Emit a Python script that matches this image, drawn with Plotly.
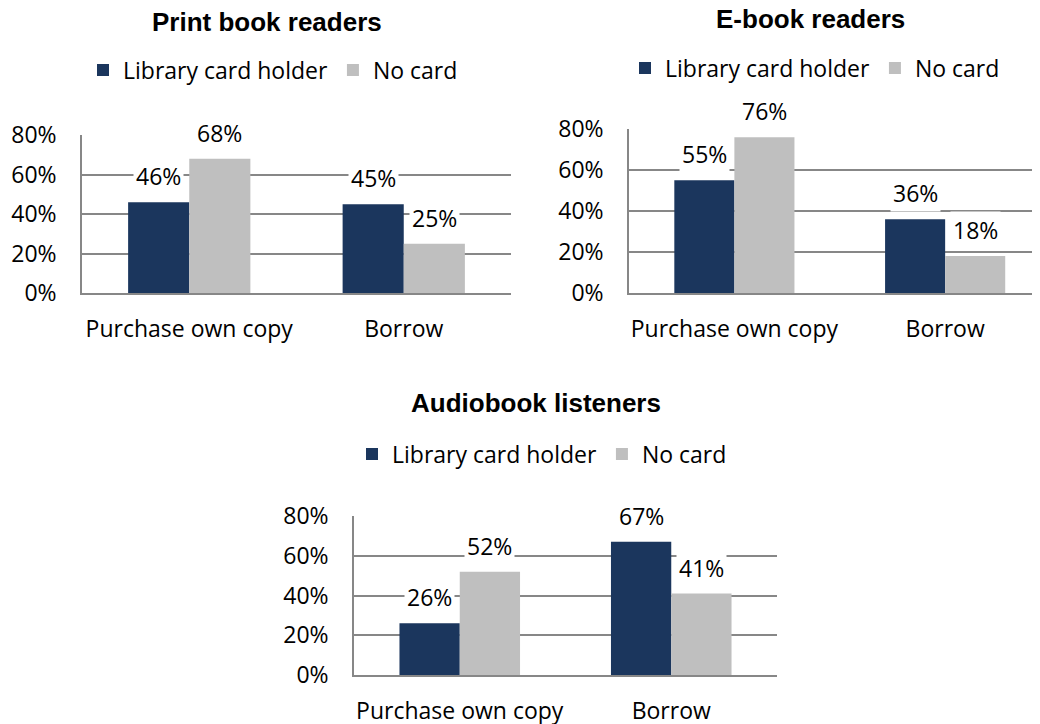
import plotly.graph_objects as go

# ---------------- data ----------------
categories = ["Purchase own copy", "Borrow"]
series_names = ["Library card holder", "No card"]
titles = ["Print book readers", "E-book readers", "Audiobook listeners"]

print_card = [0.46, 0.45]
print_nocard = [0.68, 0.25]
ebook_card = [0.55, 0.36]
ebook_nocard = [0.76, 0.18]
audio_card = [0.26, 0.67]
audio_nocard = [0.52, 0.41]

y_tickvals = [0, 0.2, 0.4, 0.6, 0.8]
y_ticktext = ["0%", "20%", "40%", "60%", "80%"]

# ---------------- style / layout ----------------
W, H = 1040, 724
OFF = 8  # page body margin offset of the plot div
NAVY = "#1B365D"
GRAY = "#BFBFBF"
GRID = "#878787"
FONT = "Open Sans"
TITLE_FONT = "Liberation Sans"
FS = 23
BARGAP = 0.43

panels = [
    dict(card=print_card, nocard=print_nocard, title=titles[0],
         xpx=(82, 511), ypx=(135, 293), xrange=[-0.5, 1.5],
         title_px=(267, 22), legend_px=(273, 70)),
    dict(card=ebook_card, nocard=ebook_nocard, title=titles[1],
         xpx=(629, 1040), ypx=(129, 293), xrange=[-0.5, 1.45],
         title_px=(810, 19), legend_px=(815, 68)),
    dict(card=audio_card, nocard=audio_nocard, title=titles[2],
         xpx=(354, 777), ypx=(516, 675), xrange=[-0.5, 1.5],
         title_px=(536, 403), legend_px=(542, 454)),
]


def px_x(v):
    return (v - OFF) / W


def px_y(v):
    return 1 - (v - OFF) / H


fig = go.Figure()
annotations = []
layout = {}

for i, p in enumerate(panels, start=1):
    sfx = "" if i == 1 else str(i)
    xa, ya = "x" + sfx, "y" + sfx
    leg = "legend" + sfx
    for name, vals, col in ((series_names[0], p["card"], NAVY),
                            (series_names[1], p["nocard"], GRAY)):
        fig.add_trace(go.Bar(
            x=categories, y=vals, name=name, marker_color=col,
            marker_line_width=0, xaxis=xa, yaxis=ya, legend=leg,
            hoverinfo="skip",
        ))

    x0, x1 = p["xpx"]
    ytop, ybot = p["ypx"]
    layout["xaxis" + sfx] = dict(
        domain=[px_x(x0), min(1.0, px_x(x1))], anchor=ya, range=p["xrange"],
        showgrid=False, showline=True, linecolor=GRID, linewidth=1.5,
        ticks="", ticklabelstandoff=15, zeroline=False, automargin=False,
        tickfont=dict(family=FONT, size=FS, color="#000"),
        fixedrange=True,
    )
    layout["yaxis" + sfx] = dict(
        domain=[px_y(ybot), px_y(ytop)], anchor=xa, range=[0, 0.8],
        tickvals=y_tickvals, ticktext=y_ticktext,
        showgrid=True, gridcolor=GRID, gridwidth=1.5,
        showline=True, linecolor=GRID, linewidth=1.5, automargin=False,
        zeroline=False, ticks="", ticklabelstandoff=19,
        tickfont=dict(family=FONT, size=FS, color="#000"),
        fixedrange=True,
    )
    lx, ly = p["legend_px"]
    layout[leg] = dict(
        orientation="h", x=px_x(lx), y=px_y(ly), xanchor="center",
        yanchor="middle", font=dict(family=FONT, size=FS, color="#000"),
        bgcolor="rgba(0,0,0,0)", traceorder="normal",
        itemclick=False, itemdoubleclick=False,
    )
    tx, ty = p["title_px"]
    annotations.append(dict(
        text="<b>" + p["title"] + "</b>", x=px_x(tx), y=px_y(ty),
        xref="paper", yref="paper", xanchor="center", yanchor="middle",
        showarrow=False, font=dict(family=TITLE_FONT, size=26, color="#000"),
    ))
    # data labels above each bar (white background cuts the gridlines)
    unit_px = (min(x1, OFF + W) - x0) / (p["xrange"][1] - p["xrange"][0])
    bar_px = unit_px * (1 - BARGAP) / 2
    for vals, shift in ((p["card"], -bar_px / 2), (p["nocard"], bar_px / 2)):
        for cat, v in zip(categories, vals):
            annotations.append(dict(
                x=cat, y=v, xref=xa, yref=ya, xshift=shift, yshift=26,
                text=f"{round(v * 100)}%", showarrow=False,
                xanchor="center", yanchor="middle",
                bgcolor="white", borderpad=2,
                font=dict(family=FONT, size=FS, color="#000"),
            ))

fig.update_layout(
    template="none",
    width=W, height=H,
    margin=dict(l=0, r=0, t=0, b=0, pad=0, autoexpand=False),
    paper_bgcolor="white", plot_bgcolor="white",
    barmode="group", bargap=BARGAP, bargroupgap=0,
    annotations=annotations, showlegend=True,
    font=dict(family=FONT, size=FS, color="#000"),
    **layout,
)

fig.write_html("out.html")
